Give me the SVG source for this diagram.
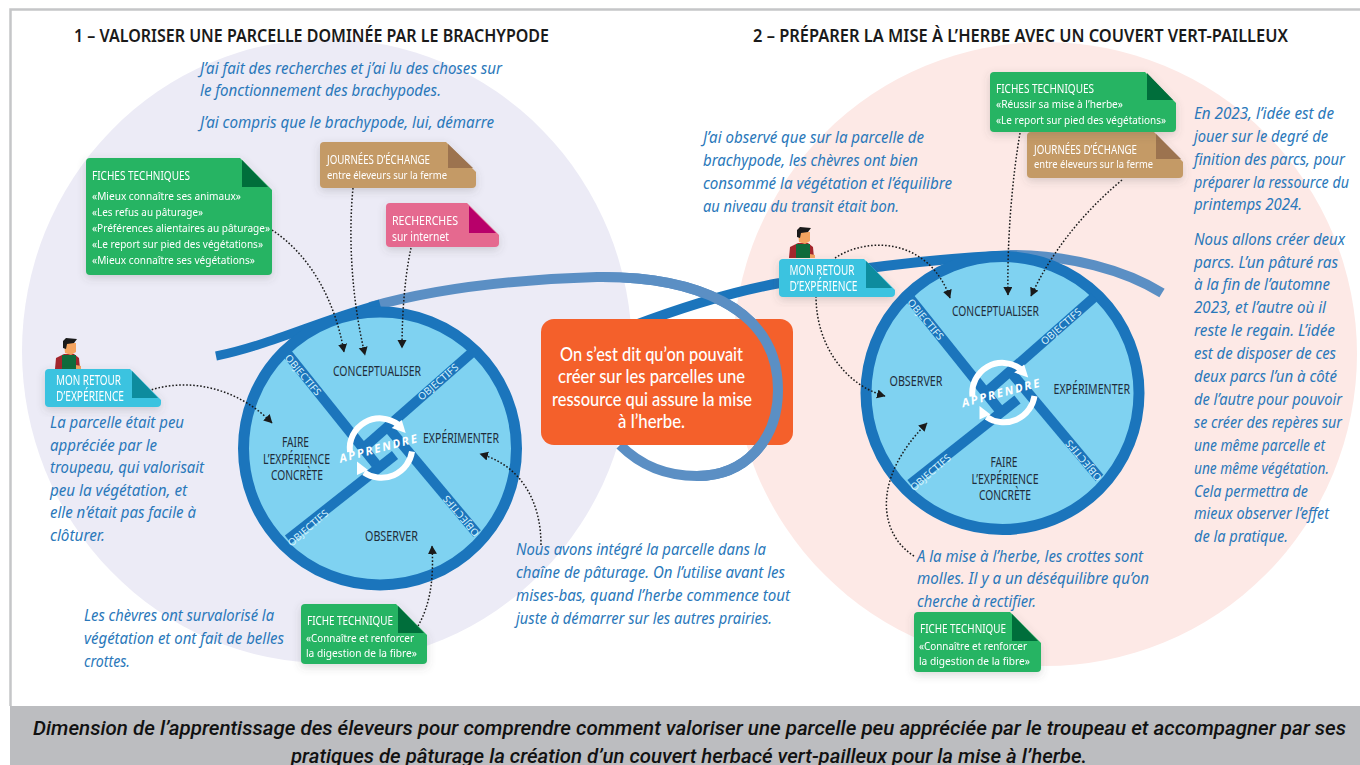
<svg xmlns="http://www.w3.org/2000/svg" xmlns:xlink="http://www.w3.org/1999/xlink" width="1360" height="765" viewBox="0 0 1360 765">
<style>
text{font-family:"Noto Sans","Open Sans","Liberation Sans",sans-serif}
.t{font-size:17px;font-weight:600;fill:#1a1a1a}
.b{font-size:15.5px;font-style:italic;fill:#2a78ba}
.w{font-size:13.5px;fill:#1f2d3a}
.o{font-size:10px;fill:#d6f2fc;text-anchor:middle}
.h{font-size:13px;fill:#fff}
.s{font-size:11.5px;fill:#fff}
.r{font-size:13.5px;fill:#fff}
.c{font-family:Lato,"Noto Sans",sans-serif;font-size:18.5px;font-weight:500;fill:#fff}
.f{font-family:Roboto,"Noto Sans",sans-serif;font-size:20px;font-weight:500;font-style:italic;fill:#111}
.g{fill:#27b463}.gd{fill:#006e3a}.cy{fill:#3ac3e0}.cyd{fill:#0a8c9e}.ta{fill:#c49a66}.tad{fill:#9c7350}.pk{fill:#e5698f}.pkd{fill:#b8006a}
.note{filter:url(#sh)}
.dot{fill:none;stroke:#1a1a1a;stroke-width:1.5;stroke-dasharray:1.6 1.9;marker-end:url(#ah)}
.line{fill:none;stroke-width:10}
</style>
<defs>
<filter id="sh" x="-15%" y="-15%" width="130%" height="140%"><feDropShadow dx="0" dy="3" stdDeviation="4" flood-color="#555" flood-opacity=".22"/></filter>
<marker id="ah" markerUnits="userSpaceOnUse" markerWidth="10" markerHeight="10" refX="8" refY="4.500" orient="auto"><path d="M0,0L8.500,4.500L0,9Z" fill="#1a1a1a"/></marker>
<g id="wheelbase">
<circle r="136.500" fill="#7fd2f1" stroke="#1b75bc" stroke-width="11"/>
<g fill="none" stroke="#1b75bc" stroke-width="10">
<path d="M-92,-94L-3,17"/><path d="M92,-96L-20,2.500"/><path d="M-92,91L15,6.500"/><path d="M97,85L9,-20"/>
</g>
<path d="M-30,3.500A30,30 0 0 1 18,-24" fill="none" stroke="#fff" stroke-width="6"/>
<path d="M32,3A31,31 0 0 1 -16,24" fill="none" stroke="#fff" stroke-width="6"/>
<path d="M21.700,-28.500L25.700,-15.500L11.700,-20.500Z" fill="#fff"/><path d="M-23,13L-23,26.500L-12,21.500Z" fill="#fff"/>
<text transform="translate(-2,0) rotate(-15)" x="0" y="4" text-anchor="middle" font-size="11.500" font-weight="700" font-style="italic" fill="#fff" textLength="80" lengthAdjust="spacing">APPRENDRE</text>
</g>
<g id="person">
<path d="M55,369L56,358L64,354L74,354L79,358L80,369Z" fill="#a3262c"/>
<path d="M62,369L62,355L76,355L76,369Z" fill="#106b3c"/>
<path d="M76,365L81,366L81,369L76,369Z" fill="#f4a460"/>
<path d="M64,343L76,343L76,352L71,355L65,353Z" fill="#f4a460"/>
<path d="M63,348L63,341L66,338L77,339L74,343L67,344L66,349Z" fill="#1a1a1a"/>
</g>
</defs>

<rect x="0" y="0" width="1360" height="765" fill="#fff"/>
<path d="M10.500,706V9.500H1360" fill="none" stroke="#c5c6c8" stroke-width="2.500"/>
<ellipse id="bg1" cx="327" cy="351" rx="305" ry="312" fill="#ecebf6"/>
<circle id="bg2" cx="1045" cy="354" r="312" fill="#fde9e6"/>
<rect x="10" y="706" width="1350" height="59" fill="#bcbdc0"/>

<g id="titles">
<text class="t" x="74" y="42" textLength="475" lengthAdjust="spacingAndGlyphs">1 – VALORISER UNE PARCELLE DOMINÉE PAR LE BRACHYPODE</text>
<text class="t" x="753" y="42" textLength="535" lengthAdjust="spacingAndGlyphs">2 – PRÉPARER LA MISE À L’HERBE AVEC UN COUVERT VERT-PAILLEUX</text>
</g>

<g id="connectors-back">
<path class="line" stroke="#5b8fc4" d="M370,307C430,290 500,280 597,277C690,276 778,305 778,390C778,440 745,476 697,476C665,476 640,465 620,445"/>
<path class="line" stroke="#1b75bc" style="stroke-width:9" d="M216,356C270,345 320,320 380,304"/>
<path class="line" stroke="#1b75bc" d="M630,327C680,308 730,292 780,283C830,272 930,258 1017,255"/>
<path class="line" stroke="#5b8fc4" d="M1010,255C1070,255 1125,270 1162,293"/>
</g>

<g id="orange">
<rect x="541" y="319" width="252" height="126" rx="13" fill="#f4602b"/>
<text class="c" x="560" y="361" textLength="183" lengthAdjust="spacingAndGlyphs">On s’est dit qu’on pouvait</text>
<text class="c" x="558" y="383" textLength="187" lengthAdjust="spacingAndGlyphs">créer sur les parcelles une</text>
<text class="c" x="552" y="406" textLength="200" lengthAdjust="spacingAndGlyphs">ressource qui assure la mise</text>
<text class="c" x="618" y="428" textLength="67" lengthAdjust="spacingAndGlyphs">à l’herbe.</text>
</g>
<path class="line" stroke="#5b8fc4" d="M597,277C690,276 778,305 778,390C778,440 745,476 697,476"/>

<g id="wheel1">
<use xlink:href="#wheelbase" href="#wheelbase" transform="translate(380,448.500)"/>
<text class="o" transform="translate(303,375) rotate(50)" y="3.500" textLength="50" lengthAdjust="spacingAndGlyphs">OBJECTIFS</text>
<text class="o" transform="translate(438,382) rotate(-41)" y="3.500" textLength="50" lengthAdjust="spacingAndGlyphs">OBJECTIFS</text>
<text class="o" transform="translate(308,528) rotate(-41)" y="3.500" textLength="50" lengthAdjust="spacingAndGlyphs">OBJECTIFS</text>
<text class="o" transform="translate(461,516) rotate(230)" y="3.500" textLength="50" lengthAdjust="spacingAndGlyphs">OBJECTIFS</text>
<text class="w" x="333" y="376" textLength="88" lengthAdjust="spacingAndGlyphs">CONCEPTUALISER</text>
<text class="w" x="423" y="442.500" textLength="76" lengthAdjust="spacingAndGlyphs">EXPÉRIMENTER</text>
<text class="w" x="282" y="447" textLength="27" lengthAdjust="spacingAndGlyphs">FAIRE</text>
<text class="w" x="263" y="463.500" textLength="67" lengthAdjust="spacingAndGlyphs">L’EXPÉRIENCE</text>
<text class="w" x="271" y="480" textLength="52" lengthAdjust="spacingAndGlyphs">CONCRÈTE</text>
<text class="w" x="365" y="541" textLength="53" lengthAdjust="spacingAndGlyphs">OBSERVER</text>
</g>

<g id="wheel2">
<use xlink:href="#wheelbase" href="#wheelbase" transform="translate(1002.500,393)"/>
<text class="o" transform="translate(925.500,319.500) rotate(50)" y="3.500" textLength="50" lengthAdjust="spacingAndGlyphs">OBJECTIFS</text>
<text class="o" transform="translate(1061,326.500) rotate(-41)" y="3.500" textLength="50" lengthAdjust="spacingAndGlyphs">OBJECTIFS</text>
<text class="o" transform="translate(930.500,472.500) rotate(-41)" y="3.500" textLength="50" lengthAdjust="spacingAndGlyphs">OBJECTIFS</text>
<text class="o" transform="translate(1083.500,460.500) rotate(230)" y="3.500" textLength="50" lengthAdjust="spacingAndGlyphs">OBJECTIFS</text>
<text class="w" x="952" y="316" textLength="87" lengthAdjust="spacingAndGlyphs">CONCEPTUALISER</text>
<text class="w" x="1053.500" y="394" textLength="76.500" lengthAdjust="spacingAndGlyphs">EXPÉRIMENTER</text>
<text class="w" x="889.500" y="386" textLength="53" lengthAdjust="spacingAndGlyphs">OBSERVER</text>
<text class="w" x="990.500" y="467" textLength="27" lengthAdjust="spacingAndGlyphs">FAIRE</text>
<text class="w" x="971.500" y="483.500" textLength="67" lengthAdjust="spacingAndGlyphs">L’EXPÉRIENCE</text>
<text class="w" x="979" y="500" textLength="52" lengthAdjust="spacingAndGlyphs">CONCRÈTE</text>
</g>

<g id="connectors">
<path class="dot" d="M272,230C310,255 335,300 344,352"/>
<path class="dot" d="M353,188C348,240 352,300 365,355"/>
<path class="dot" d="M411,248C404,280 402,320 402,348"/>
<path class="dot" d="M145,392C190,375 240,390 272,423"/>
<path class="dot" d="M541,545C541,500 520,465 480,454"/>
<path class="dot" d="M418,626C430,605 434,580 432,546"/>
<path class="dot" d="M835,258C870,235 930,240 950,298"/>
<path class="dot" d="M816,296C816,345 845,385 885,396"/>
<path class="dot" d="M1020,133C1012,180 1007,240 1008,295"/>
<path class="dot" d="M1122,180C1080,215 1050,255 1031,296"/>
<path class="dot" d="M914,556C880,535 870,480 927,423"/>
</g>

<g id="fiches1" class="note">
<path class="g" d="M90,158H240L272,190V271Q272,275 268,275H90Q86,275 86,271V162Q86,158 90,158Z"/>
<path class="gd" d="M242,160V187H268Z"/>
<text class="h" x="92" y="180" textLength="98" lengthAdjust="spacingAndGlyphs">FICHES TECHNIQUES</text>
<text class="s" x="92" y="200" textLength="149" lengthAdjust="spacingAndGlyphs">«Mieux connaître ses animaux»</text>
<text class="s" x="92" y="216" textLength="111" lengthAdjust="spacingAndGlyphs">«Les refus au pâturage»</text>
<text class="s" x="92" y="232" textLength="178" lengthAdjust="spacingAndGlyphs">«Préférences alientaires au pâturage»</text>
<text class="s" x="92" y="248" textLength="171" lengthAdjust="spacingAndGlyphs">«Le report sur pied des végétations»</text>
<text class="s" x="92" y="264" textLength="163" lengthAdjust="spacingAndGlyphs">«Mieux connaître ses végétations»</text>
</g>
<g id="journees1" class="note">
<path class="ta" d="M324,142H446L476,172V184Q476,188 472,188H324Q320,188 320,184V146Q320,142 324,142Z"/>
<path class="tad" d="M448,144V168H473Z"/>
<text class="h" x="327" y="164" textLength="103" lengthAdjust="spacingAndGlyphs">JOURNÉES D’ÉCHANGE</text>
<text class="s" x="327" y="179" textLength="120" lengthAdjust="spacingAndGlyphs">entre éleveurs sur la ferme</text>
</g>
<g id="recherches" class="note">
<path class="pk" d="M390,203H467L499,235V243Q499,247 495,247H390Q386,247 386,243V207Q386,203 390,203Z"/>
<path class="pkd" d="M469,206V233H496Z"/>
<text class="h" x="392" y="225" textLength="66" lengthAdjust="spacingAndGlyphs">RECHERCHES</text>
<text class="h" x="392" y="241" textLength="57" lengthAdjust="spacingAndGlyphs">sur internet</text>
</g>
<g id="retour1">
<use xlink:href="#person" href="#person"/>
<g class="note">
<path class="cy" d="M49,369H130L161,400V403Q161,407 157,407H49Q45,407 45,403V373Q45,369 49,369Z"/>
<path class="cyd" d="M132,371V398H158Z"/>
<text class="r" x="56" y="385" textLength="65" lengthAdjust="spacingAndGlyphs">MON RETOUR</text>
<text class="r" x="56" y="401" textLength="68" lengthAdjust="spacingAndGlyphs">D’EXPÉRIENCE</text>
</g>
</g>
<g id="fiche1" class="note">
<path class="g" d="M305,604H396L427,635V660Q427,664 423,664H305Q301,664 301,660V608Q301,604 305,604Z"/>
<path class="gd" d="M398,606V633H424Z"/>
<text class="h" x="307" y="625" textLength="86" lengthAdjust="spacingAndGlyphs">FICHE TECHNIQUE</text>
<text class="s" x="306" y="642" textLength="108" lengthAdjust="spacingAndGlyphs">«Connaître et renforcer</text>
<text class="s" x="306" y="657" textLength="111" lengthAdjust="spacingAndGlyphs">la digestion de la fibre»</text>
</g>
<g id="journees2" class="note">
<path class="ta" d="M1031,132H1154L1183,162V174Q1183,178 1179,178H1031Q1027,178 1027,174V136Q1027,132 1031,132Z"/>
<path class="tad" d="M1156,134V159H1181Z"/>
<text class="h" x="1034" y="154" textLength="103" lengthAdjust="spacingAndGlyphs">JOURNÉES D’ÉCHANGE</text>
<text class="s" x="1034" y="168" textLength="119" lengthAdjust="spacingAndGlyphs">entre éleveurs sur la ferme</text>
</g>
<g id="fiches2" class="note">
<path class="g" d="M994,72H1145L1176,103V128Q1176,132 1172,132H994Q990,132 990,128V76Q990,72 994,72Z"/>
<path class="gd" d="M1147,73V100H1173Z"/>
<text class="h" x="996" y="93" textLength="98" lengthAdjust="spacingAndGlyphs">FICHES TECHNIQUES</text>
<text class="s" x="996" y="108" textLength="127" lengthAdjust="spacingAndGlyphs">«Réussir sa mise à l’herbe»</text>
<text class="s" x="996" y="124" textLength="170" lengthAdjust="spacingAndGlyphs">«Le report sur pied des végétations»</text>
</g>
<g id="retour2">
<use xlink:href="#person" href="#person" transform="translate(734,-111)"/>
<g class="note">
<path class="cy" d="M783,259H864L895,290V293Q895,297 891,297H783Q779,297 779,293V263Q779,259 783,259Z"/>
<path class="cyd" d="M866,261V288H892Z"/>
<text class="r" x="789.500" y="275" textLength="65" lengthAdjust="spacingAndGlyphs">MON RETOUR</text>
<text class="r" x="789.500" y="291" textLength="68" lengthAdjust="spacingAndGlyphs">D’EXPÉRIENCE</text>
</g>
</g>
<g id="fiche2" class="note">
<path class="g" d="M918,612H1010L1041,643V668Q1041,672 1037,672H918Q914,672 914,668V616Q914,612 918,612Z"/>
<path class="gd" d="M1012,614V641H1038Z"/>
<text class="h" x="920" y="633" textLength="86" lengthAdjust="spacingAndGlyphs">FICHE TECHNIQUE</text>
<text class="s" x="919" y="650" textLength="108" lengthAdjust="spacingAndGlyphs">«Connaître et renforcer</text>
<text class="s" x="919" y="665" textLength="111" lengthAdjust="spacingAndGlyphs">la digestion de la fibre»</text>
</g>

<g id="texts-blue">
<text class="b" x="200" y="74" textLength="302" lengthAdjust="spacingAndGlyphs">J’ai fait des recherches et j’ai lu des choses sur</text>
<text class="b" x="200" y="96" textLength="241" lengthAdjust="spacingAndGlyphs">le fonctionnement des brachypodes.</text>
<text class="b" x="200" y="128" textLength="294" lengthAdjust="spacingAndGlyphs">J’ai compris que le brachypode, lui, démarre</text>
<text class="b" x="50" y="428" textLength="134" lengthAdjust="spacingAndGlyphs">La parcelle était peu</text>
<text class="b" x="50" y="451" textLength="107" lengthAdjust="spacingAndGlyphs">appréciée par le</text>
<text class="b" x="50" y="473" textLength="154" lengthAdjust="spacingAndGlyphs">troupeau, qui valorisait</text>
<text class="b" x="50" y="496" textLength="137" lengthAdjust="spacingAndGlyphs">peu la végétation, et</text>
<text class="b" x="50" y="518" textLength="146" lengthAdjust="spacingAndGlyphs">elle n’était pas facile à</text>
<text class="b" x="50" y="541" textLength="55" lengthAdjust="spacingAndGlyphs">clôturer.</text>
<text class="b" x="84" y="621" textLength="190" lengthAdjust="spacingAndGlyphs">Les chèvres ont survalorisé la</text>
<text class="b" x="84" y="644" textLength="200" lengthAdjust="spacingAndGlyphs">végétation et ont fait de belles</text>
<text class="b" x="84" y="667" textLength="46" lengthAdjust="spacingAndGlyphs">crottes.</text>
<text class="b" x="516" y="555" textLength="250" lengthAdjust="spacingAndGlyphs">Nous avons intégré la parcelle dans la</text>
<text class="b" x="516" y="578" textLength="269" lengthAdjust="spacingAndGlyphs">chaîne de pâturage. On l’utilise avant les</text>
<text class="b" x="516" y="601" textLength="274" lengthAdjust="spacingAndGlyphs">mises-bas, quand l’herbe commence tout</text>
<text class="b" x="516" y="624" textLength="256" lengthAdjust="spacingAndGlyphs">juste à démarrer sur les autres prairies.</text>
<text class="b" x="703" y="143" textLength="221" lengthAdjust="spacingAndGlyphs">J’ai observé que sur la parcelle de</text>
<text class="b" x="703" y="166" textLength="215" lengthAdjust="spacingAndGlyphs">brachypode, les chèvres ont bien</text>
<text class="b" x="703" y="189" textLength="249" lengthAdjust="spacingAndGlyphs">consommé la végétation et l’équilibre</text>
<text class="b" x="703" y="212" textLength="196" lengthAdjust="spacingAndGlyphs">au niveau du transit était bon.</text>
<text class="b" x="917" y="562" textLength="226" lengthAdjust="spacingAndGlyphs">A la mise à l’herbe, les crottes sont</text>
<text class="b" x="917" y="584" textLength="232" lengthAdjust="spacingAndGlyphs">molles. Il y a un déséquilibre qu’on</text>
<text class="b" x="917" y="607" textLength="119" lengthAdjust="spacingAndGlyphs">cherche à rectifier.</text>
<text class="b" x="1194" y="119" textLength="140" lengthAdjust="spacingAndGlyphs">En 2023, l’idée est de</text>
<text class="b" x="1194" y="142" textLength="134" lengthAdjust="spacingAndGlyphs">jouer sur le degré de</text>
<text class="b" x="1194" y="165" textLength="151" lengthAdjust="spacingAndGlyphs">finition des parcs, pour</text>
<text class="b" x="1194" y="188" textLength="155" lengthAdjust="spacingAndGlyphs">préparer la ressource du</text>
<text class="b" x="1194" y="210" textLength="108" lengthAdjust="spacingAndGlyphs">printemps 2024.</text>
<text class="b" x="1194" y="245" textLength="151" lengthAdjust="spacingAndGlyphs">Nous allons créer deux</text>
<text class="b" x="1194" y="268" textLength="144" lengthAdjust="spacingAndGlyphs">parcs. L’un pâturé ras</text>
<text class="b" x="1194" y="290" textLength="136" lengthAdjust="spacingAndGlyphs">à la fin de l’automne</text>
<text class="b" x="1194" y="313" textLength="132" lengthAdjust="spacingAndGlyphs">2023, et l’autre où il</text>
<text class="b" x="1194" y="336" textLength="141" lengthAdjust="spacingAndGlyphs">reste le regain. L’idée</text>
<text class="b" x="1194" y="359" textLength="142" lengthAdjust="spacingAndGlyphs">est de disposer de ces</text>
<text class="b" x="1194" y="382" textLength="143" lengthAdjust="spacingAndGlyphs">deux parcs l’un à côté</text>
<text class="b" x="1194" y="405" textLength="148" lengthAdjust="spacingAndGlyphs">de l’autre pour pouvoir</text>
<text class="b" x="1194" y="428" textLength="148" lengthAdjust="spacingAndGlyphs">se créer des repères sur</text>
<text class="b" x="1194" y="451" textLength="131" lengthAdjust="spacingAndGlyphs">une même parcelle et</text>
<text class="b" x="1194" y="474" textLength="135" lengthAdjust="spacingAndGlyphs">une même végétation.</text>
<text class="b" x="1194" y="497" textLength="114" lengthAdjust="spacingAndGlyphs">Cela permettra de</text>
<text class="b" x="1194" y="519" textLength="135" lengthAdjust="spacingAndGlyphs">mieux observer l’effet</text>
<text class="b" x="1194" y="542" textLength="94" lengthAdjust="spacingAndGlyphs">de la pratique.</text>
</g>

<g id="footer">
<text class="f" x="33" y="735" textLength="1313" lengthAdjust="spacingAndGlyphs">Dimension de l’apprentissage des éleveurs pour comprendre comment valoriser une parcelle peu appréciée par le troupeau et accompagner par ses</text>
<text class="f" x="291" y="763" textLength="796" lengthAdjust="spacingAndGlyphs">pratiques de pâturage la création d’un couvert herbacé vert-pailleux pour la mise à l’herbe.</text>
</g>
</svg>
